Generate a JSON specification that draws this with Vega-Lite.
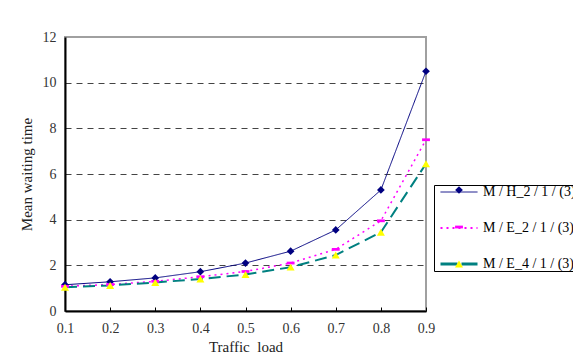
{
  "$schema": "https://vega.github.io/schema/vega-lite/v6.json",
  "width": 361,
  "height": 274,
  "autosize": {"type": "none"},
  "padding": {"left": 65, "top": 37, "right": 147, "bottom": 45},
  "background": "white",
  "config": {
    "view": {"stroke": "#a0a0a0", "strokeWidth": 2},
    "font": "Liberation Serif"
  },
  "data": {
    "values": [
      {"load": 0.1, "series": "M / H_2 / 1 / (3)", "time": 1.15},
      {"load": 0.2, "series": "M / H_2 / 1 / (3)", "time": 1.28},
      {"load": 0.3, "series": "M / H_2 / 1 / (3)", "time": 1.45},
      {"load": 0.4, "series": "M / H_2 / 1 / (3)", "time": 1.72},
      {"load": 0.5, "series": "M / H_2 / 1 / (3)", "time": 2.1},
      {"load": 0.6, "series": "M / H_2 / 1 / (3)", "time": 2.62},
      {"load": 0.7, "series": "M / H_2 / 1 / (3)", "time": 3.55},
      {"load": 0.8, "series": "M / H_2 / 1 / (3)", "time": 5.3},
      {"load": 0.9, "series": "M / H_2 / 1 / (3)", "time": 10.5},
      {"load": 0.1, "series": "M / E_2 / 1 / (3)", "time": 1.08},
      {"load": 0.2, "series": "M / E_2 / 1 / (3)", "time": 1.16},
      {"load": 0.3, "series": "M / E_2 / 1 / (3)", "time": 1.3},
      {"load": 0.4, "series": "M / E_2 / 1 / (3)", "time": 1.5},
      {"load": 0.5, "series": "M / E_2 / 1 / (3)", "time": 1.73},
      {"load": 0.6, "series": "M / E_2 / 1 / (3)", "time": 2.1},
      {"load": 0.7, "series": "M / E_2 / 1 / (3)", "time": 2.7},
      {"load": 0.8, "series": "M / E_2 / 1 / (3)", "time": 3.95},
      {"load": 0.9, "series": "M / E_2 / 1 / (3)", "time": 7.5},
      {"load": 0.1, "series": "M / E_4 / 1 / (3)", "time": 1.04},
      {"load": 0.2, "series": "M / E_4 / 1 / (3)", "time": 1.12},
      {"load": 0.3, "series": "M / E_4 / 1 / (3)", "time": 1.25},
      {"load": 0.4, "series": "M / E_4 / 1 / (3)", "time": 1.4},
      {"load": 0.5, "series": "M / E_4 / 1 / (3)", "time": 1.6},
      {"load": 0.6, "series": "M / E_4 / 1 / (3)", "time": 1.92},
      {"load": 0.7, "series": "M / E_4 / 1 / (3)", "time": 2.45},
      {"load": 0.8, "series": "M / E_4 / 1 / (3)", "time": 3.45},
      {"load": 0.9, "series": "M / E_4 / 1 / (3)", "time": 6.45}
    ]
  },
  "encoding": {
    "x": {
      "field": "load",
      "type": "quantitative",
      "scale": {"domain": [0.1, 0.9], "nice": false, "zero": false},
      "axis": {
        "values": [0.1, 0.2, 0.3, 0.4, 0.5, 0.6, 0.7, 0.8, 0.9],
        "format": ".1f",
        "title": "Traffic\u00a0 load",
        "titleFont": "Liberation Serif",
        "titleFontSize": 15,
        "titleFontWeight": "normal",
        "titleColor": "#222",
        "titlePadding": 4,
        "labelFont": "Liberation Serif",
        "labelFontSize": 14,
        "labelColor": "#333",
        "labelPadding": 14,
        "labelFlush": false,
        "labelOverlap": false,
        "domainColor": "black",
        "domainWidth": 2,
        "tickColor": "black",
        "tickSize": -4,
        "grid": false
      }
    },
    "y": {
      "field": "time",
      "type": "quantitative",
      "scale": {"domain": [0, 12], "nice": false},
      "axis": {
        "values": [0, 2, 4, 6, 8, 10, 12],
        "title": "Mean waiting time",
        "titleFont": "Liberation Serif",
        "titleFontSize": 15,
        "titleFontWeight": "normal",
        "titleColor": "#222",
        "titlePadding": 8,
        "labelFont": "Liberation Serif",
        "labelFontSize": 14,
        "labelColor": "#333",
        "labelPadding": 9,
        "labelFlush": false,
        "domainColor": "black",
        "domainWidth": 2,
        "ticks": false,
        "grid": true,
        "gridColor": "#444",
        "gridDash": [6, 5],
        "gridWidth": 1,
        "gridOpacity": {"condition": {"test": "datum.value == 0 || datum.value == 12", "value": 0}, "value": 1}
      }
    }
  },
  "layer": [
    {
      "mark": {"type": "line"},
      "encoding": {
        "color": {
          "field": "series",
          "type": "nominal",
          "sort": ["M / H_2 / 1 / (3)", "M / E_2 / 1 / (3)", "M / E_4 / 1 / (3)"],
          "scale": {"range": ["#000080", "#ff00ff", "#008080"]},
          "legend": {
            "orient": "none",
            "legendX": 369,
            "legendY": 148,
            "title": null,
            "strokeColor": "black",
            "padding": 0,
            "symbolOffset": 18,
            "symbolSize": 1369,
            "symbolType": "stroke",
            "labelFont": "Liberation Serif",
            "labelFontSize": 14,
            "labelColor": "black",
            "labelOffset": 17,
            "rowPadding": 22,
            "encode": {
              "symbols": {
                "update": {
                  "strokeWidth": {"signal": "datum.value == 'M / H_2 / 1 / (3)' ? 1 : datum.value == 'M / E_2 / 1 / (3)' ? 2 : 3"},
                  "strokeDash": {"signal": "datum.value == 'M / H_2 / 1 / (3)' ? [1, 0] : datum.value == 'M / E_2 / 1 / (3)' ? [2, 4] : [17, 4]"},
                  "opacity": {"value": 1}
                }
              }
            }
          }
        },
        "strokeDash": {
          "field": "series",
          "type": "nominal",
          "sort": ["M / H_2 / 1 / (3)", "M / E_2 / 1 / (3)", "M / E_4 / 1 / (3)"],
          "scale": {"range": [[1, 0], [2, 4], [12, 6]]},
          "legend": null
        },
        "strokeWidth": {
          "field": "series",
          "type": "nominal",
          "sort": ["M / H_2 / 1 / (3)", "M / E_2 / 1 / (3)", "M / E_4 / 1 / (3)"],
          "scale": {"range": [1, 2, 3]},
          "legend": null
        }
      }
    },
    {
      "mark": {"type": "point", "filled": true, "opacity": 1, "strokeWidth": 0},
      "encoding": {
        "fill": {
          "field": "series",
          "type": "nominal",
          "scale": {
            "domain": ["M / H_2 / 1 / (3)", "M / E_2 / 1 / (3)", "M / E_4 / 1 / (3)"],
            "range": ["#000080", "#ff00ff", "#ffff00"]
          },
          "legend": {
            "orient": "none",
            "legendX": 369,
            "legendY": 146,
            "title": null,
            "padding": 0,
            "symbolOffset": 18,
            "labelFont": "Liberation Serif",
            "labelFontSize": 14,
            "labelOpacity": 0,
            "labelOffset": 2,
            "rowPadding": 23,
            "symbolStrokeWidth": 0
          }
        },
        "shape": {
          "field": "series",
          "type": "nominal",
          "scale": {
            "domain": ["M / H_2 / 1 / (3)", "M / E_2 / 1 / (3)", "M / E_4 / 1 / (3)"],
            "range": ["diamond", "M-1,-0.35L1,-0.35L1,0.35L-1,0.35Z", "triangle-up"]
          }
        },
        "size": {
          "field": "series",
          "type": "nominal",
          "scale": {
            "domain": ["M / H_2 / 1 / (3)", "M / E_2 / 1 / (3)", "M / E_4 / 1 / (3)"],
            "range": [60, 64, 40]
          }
        }
      }
    }
  ]
}
